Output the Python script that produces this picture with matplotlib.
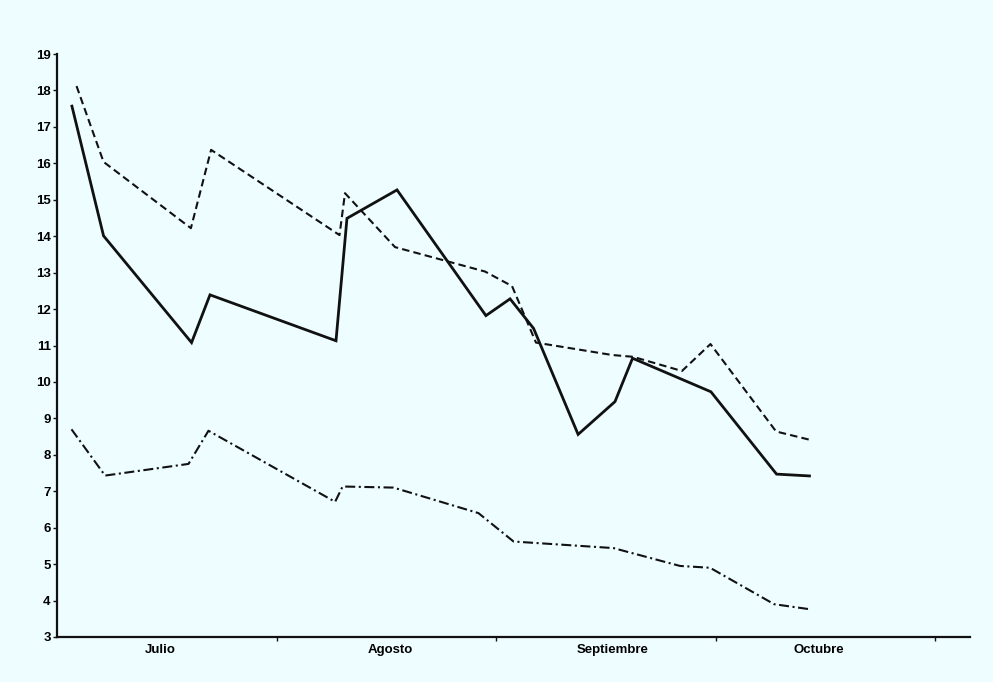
import numpy as np
import matplotlib.pyplot as plt

# x in months from 1 July (0 = start of Julio), y values
x_solid = [0.068, 0.212, 0.613, 0.697, 1.271, 1.321, 1.549, 1.954, 2.064, 2.171,
           2.374, 2.542, 2.622, 2.979, 3.278, 3.428]
y_solid = [17.57, 14.01, 11.08, 12.39, 11.13, 14.49, 15.27, 11.82, 12.28, 11.47,
           8.56, 9.46, 10.65, 9.73, 7.47, 7.42]

x_dashed = [0.089, 0.212, 0.610, 0.702, 1.287, 1.312, 1.540, 1.950, 2.073, 2.182,
            2.528, 2.624, 2.847, 2.977, 3.276, 3.431]
y_dashed = [18.12, 16.04, 14.22, 16.37, 14.03, 15.18, 13.70, 13.03, 12.63, 11.08,
            10.74, 10.69, 10.30, 11.04, 8.64, 8.41]

x_dashdot = [0.066, 0.219, 0.599, 0.690, 1.267, 1.301, 1.533, 1.920, 2.080, 2.535,
             2.838, 2.975, 3.267, 3.431]
y_dashdot = [8.70, 7.43, 7.75, 8.66, 6.71, 7.13, 7.10, 6.40, 5.62, 5.44,
             4.95, 4.90, 3.90, 3.76]

months = ['Julio', 'Agosto', 'Septiembre', 'Octubre']
month_label_pos = [0.47, 1.52, 2.53, 3.47]
y_ticks = list(range(3, 20))

bg = '#eefdff'
plt.rcParams['font.family'] = ['Liberation Sans', 'DejaVu Sans']

fig = plt.figure(figsize=(9.93, 6.82), dpi=100, facecolor=bg)
ax = fig.add_axes([0.0574, 0.066, 0.9196, 0.8548], facecolor=bg)

ax.plot(x_solid, y_solid, color='#111111', lw=2.0, solid_joinstyle='miter')
ax.plot(x_dashed, y_dashed, color='#111111', lw=1.5, dashes=(3.6, 2.0))
ax.plot(x_dashdot, y_dashdot, color='#111111', lw=1.5, dashes=(4.8, 1.7, 1.0, 1.7))

ax.set_xlim(0, 4.16)
ax.set_ylim(3, 19)

for s in ['top', 'right']:
    ax.spines[s].set_visible(False)
for s in ['left', 'bottom']:
    ax.spines[s].set_linewidth(1.6)
    ax.spines[s].set_color('#111111')

ax.set_yticks(y_ticks)
ax.set_yticklabels([str(v) for v in y_ticks], fontsize=9.5, fontweight='bold')
ax.tick_params(axis='y', length=3, width=1, pad=1.5, color='#111111')

ax.set_xticks([1, 2, 3, 4])
ax.set_xticklabels([])
ax.tick_params(axis='x', which='major', length=3, width=1, color='#111111')
ax.set_xticks(month_label_pos, minor=True)
ax.set_xticklabels(months, minor=True, fontsize=9.5, fontweight='bold')
ax.tick_params(axis='x', which='minor', length=0, pad=5)

fig.savefig('out.png', dpi=100, facecolor=bg)
